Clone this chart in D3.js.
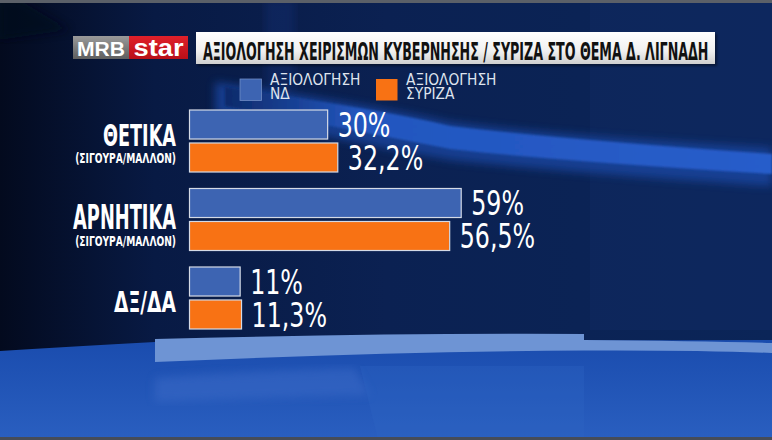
<!DOCTYPE html>
<html lang="el">
<head>
<meta charset="UTF-8">
<title>Αξιολόγηση χειρισμών</title>
<script src="https://cdn.jsdelivr.net/npm/d3@7"></script>
<style>
  html, body { margin: 0; padding: 0; background: #0a1f4e; }
  svg { display: block; }
</style>
</head>
<body>
<svg width="772" height="440"></svg>
<script>
  // data
  var categories = ['ΘΕΤΙΚΑ', 'ΑΡΝΗΤΙΚΑ', 'ΔΞ/ΔΑ'];
  var subLabels = ['(ΣΙΓΟΥΡΑ/ΜΑΛΛΟΝ)', '(ΣΙΓΟΥΡΑ/ΜΑΛΛΟΝ)', ''];
  var seriesNames = ['ΑΞΙΟΛΟΓΗΣΗ ΝΔ', 'ΑΞΙΟΛΟΓΗΣΗ ΣΥΡΙΖΑ'];
  var ndValues = [30, 59, 11];
  var syrizaValues = [32.2, 56.5, 11.3];
  var title = 'ΑΞΙΟΛΟΓΗΣΗ  ΧΕΙΡΙΣΜΩΝ ΚΥΒΕΡΝΗΣΗΣ / ΣΥΡΙΖΑ ΣΤΟ ΘΕΜΑ Δ. ΛΙΓΝΑΔΗ';

  var narrow = "'DejaVu Sans Condensed', 'DejaVu Sans', sans-serif";
  var colors = ['#3d64b2', '#f87214'];
  // per-category label look (the main words are not all the same size on the original)
  var labelStyle = [
    { size: 30, dy: 36, w: 73, sub: 53 },
    { size: 34, dy: 40.5, w: 103, sub: 57.5 },
    { size: 29, dy: 45, w: 62 }
  ];

  var svg = d3.select('svg');
  var W = +svg.attr('width'), H = +svg.attr('height');
  var defs = svg.append('defs');

  function linGrad(id, x1, y1, x2, y2, stops) {
    var g = defs.append('linearGradient').attr('id', id)
      .attr('x1', x1).attr('y1', y1).attr('x2', x2).attr('y2', y2);
    stops.forEach(function(s) {
      g.append('stop').attr('offset', s[0]).attr('stop-color', s[1]);
    });
  }
  // squeeze a text horizontally so it spans w pixels, anchored at (x, y)
  function fit(sel, x, y, w) {
    sel.each(function() {
      var len = this.getComputedTextLength();
      d3.select(this).attr('transform', 'translate(' + x + ',' + y + ') scale(' + (w / len) + ',1)');
    });
  }

  linGrad('bg', 0, 0, 1, 0, [[0, '#030a1e'], [0.2, '#081a44'], [0.5, '#0b2152'], [1, '#0b2558']]);
  linGrad('sweep', 0, 0, 1, 0, [[0, '#0d2a6a'], [0.25, '#2457bf'], [1, '#265dca']]);
  linGrad('floor', 0, 0, 0, 1, [[0, '#1a4cae'], [1, '#2a5fc0']]);
  linGrad('titleBox', 0, 0, 0, 1, [[0, '#ffffff'], [0.6, '#f0f0f0'], [1, '#cfcfcf']]);
  linGrad('mrb', 0, 0, 0, 1, [[0, '#9a9a9a'], [1, '#5e5e5e']]);
  linGrad('star', 0, 0, 0, 1, [[0, '#e0202a'], [1, '#b80f18']]);
  defs.append('filter').attr('id', 'blur').append('feGaussianBlur').attr('stdDeviation', 4);
  defs.append('filter').attr('id', 'soft').append('feGaussianBlur').attr('stdDeviation', 1.2);

  // backdrop
  svg.append('rect').attr('width', W).attr('height', H).attr('fill', 'url(#bg)');
  svg.append('path')
    .attr('d', 'M0,0 L0,40 L70,30 L20,0 Z')
    .attr('fill', '#02081a').attr('opacity', 0.7).attr('filter', 'url(#blur)');
  svg.append('rect').attr('x', 265).attr('y', 0).attr('width', 30).attr('height', 90)
    .attr('fill', '#12307a').attr('opacity', 0.35).attr('filter', 'url(#blur)');
  svg.append('rect').attr('x', 590).attr('y', 0).attr('width', 182).attr('height', 330)
    .attr('fill', '#123070').attr('opacity', 0.25);
  // light sweep across the top half
  svg.append('path')
    .attr('d', 'M215,82 Q380,106 450,122 Q560,136 772,148 L772,186 Q560,172 450,160 Q380,148 215,114 Z')
    .attr('fill', '#1c4db0').attr('opacity', 0.65).attr('filter', 'url(#blur)');
  svg.append('path')
    .attr('d', 'M225,87 Q385,110 450,126 Q560,139 772,154 L772,174 Q560,161 450,149 Q390,137 225,106 Z')
    .attr('fill', 'url(#sweep)').attr('filter', 'url(#soft)');

  // floor
  svg.append('path')
    .attr('d', 'M0,351 Q80,346 155,342 L772,340 L772,440 L0,440 Z')
    .attr('fill', 'url(#floor)');
  svg.append('path')
    .attr('d', 'M155,339 Q380,333 584,334 L584,340 Q700,341 772,343 L772,353 Q700,350 584,350.5 Q380,352 155,362 Z')
    .attr('fill', '#6e94d4');
  svg.append('path')
    .attr('d', 'M155,378 Q250,371 355,368 L370,395 Q260,398 155,402 Z')
    .attr('fill', '#3c6cc8').attr('opacity', 0.5).attr('filter', 'url(#blur)');
  svg.append('path')
    .attr('d', 'M360,366 L584,366 L584,440 L378,440 Z')
    .attr('fill', '#2f63c4').attr('opacity', 0.35);

  // frame lines
  svg.append('rect').attr('width', W).attr('height', 3).attr('fill', '#5b6068');
  svg.append('rect').attr('y', H - 3).attr('width', W).attr('height', 3).attr('fill', '#464c58');

  // header
  var head = svg.append('g');
  head.append('rect').attr('x', 73).attr('y', 36).attr('width', 56).attr('height', 23).attr('fill', 'url(#mrb)');
  head.append('rect').attr('x', 129).attr('y', 36).attr('width', 59).attr('height', 23).attr('fill', 'url(#star)');
  head.append('text').attr('x', 101).attr('y', 55.5).attr('text-anchor', 'middle')
    .attr('font-family', "'Liberation Sans', Arial, sans-serif").attr('font-weight', 700)
    .attr('font-size', 21).attr('fill', '#fff').attr('textLength', 48).attr('lengthAdjust', 'spacingAndGlyphs')
    .text('MRB');
  head.append('text').attr('x', 158.5).attr('y', 55.5).attr('text-anchor', 'middle')
    .attr('font-family', "'Liberation Sans', Arial, sans-serif").attr('font-weight', 700)
    .attr('font-size', 23).attr('fill', '#fff').attr('textLength', 50).attr('lengthAdjust', 'spacingAndGlyphs')
    .text('star');
  head.append('rect').attr('x', 198).attr('y', 34).attr('width', 519).attr('height', 32)
    .attr('fill', '#000').attr('opacity', 0.4).attr('filter', 'url(#soft)');
  head.append('rect').attr('x', 196).attr('y', 32).attr('width', 519).attr('height', 32).attr('fill', 'url(#titleBox)');
  head.append('text')
    .attr('font-family', narrow).attr('font-weight', 700).attr('font-size', 24).attr('fill', '#111')
    .text(title)
    .call(fit, 203, 59.5, 506);

  // legend
  var legendX = [240, 376];
  var legend = svg.append('g').selectAll('g').data(seriesNames).join('g')
    .attr('transform', function(d, i) { return 'translate(' + legendX[i] + ',79)'; });
  legend.append('rect').attr('width', 21.5).attr('height', 21.5)
    .attr('fill', function(d, i) { return colors[i]; })
    .attr('stroke', function(d, i) { return i ? 'none' : '#6f8cc4'; }).attr('stroke-width', 0.8);
  legend.append('text')
    .attr('font-family', narrow).attr('font-size', 15.5).attr('fill', '#dfe4ee')
    .attr('transform', 'translate(30,5.5) scale(0.99,1)')
    .selectAll('tspan').data(function(d) { return d.split(' '); }).join('tspan')
    .attr('x', 0).attr('y', function(d, k) { return k * 14.5; })
    .text(function(d) { return d; });

  // scales
  var x0 = 189.5;
  var x = d3.scaleLinear().domain([0, 100]).range([0, 460.5]);
  var y = d3.scaleBand().domain(categories).range([110, 329]).paddingInner(0.21).paddingOuter(0).align(0);
  var ySub = d3.scaleBand().domain([0, 1]).range([0, y.bandwidth()]).paddingInner(0.12).paddingOuter(0);

  var rows = categories.map(function(c, i) {
    return { cat: c, sub: subLabels[i], vals: [ndValues[i], syrizaValues[i]], i: i };
  });
  var fmt = function(v) { return String(v).replace('.', ',') + '%'; };

  var groups = svg.append('g').selectAll('g').data(rows).join('g')
    .attr('transform', function(d) { return 'translate(0,' + y(d.cat) + ')'; });

  groups.selectAll('rect').data(function(d) { return d.vals; }).join('rect')
    .attr('x', x0)
    .attr('y', function(d, i) { return ySub(i); })
    .attr('width', function(d) { return x(d); })
    .attr('height', ySub.bandwidth())
    .attr('fill', function(d, i) { return colors[i]; })
    .attr('stroke', '#d4dae6').attr('stroke-width', 1.2);

  groups.selectAll('text.val').data(function(d) { return d.vals; }).join('text')
    .attr('class', 'val')
    .attr('transform', function(d, i) {
      return 'translate(' + (x0 + x(d) + 10) + ',' + (ySub(i) + ySub.bandwidth() - 2.5) + ') scale(0.8,1)';
    })
    .attr('font-family', narrow).attr('font-size', 33).attr('fill', '#fff')
    .text(fmt);

  groups.append('text')
    .attr('text-anchor', 'end')
    .attr('font-family', narrow).attr('font-weight', 700)
    .attr('font-size', function(d) { return labelStyle[d.i].size; })
    .attr('fill', '#fff')
    .text(function(d) { return d.cat; })
    .each(function(d) {
      d3.select(this).call(fit, 176, labelStyle[d.i].dy, labelStyle[d.i].w);
    });

  groups.filter(function(d) { return d.sub; }).append('text')
    .attr('text-anchor', 'end')
    .attr('font-family', narrow).attr('font-weight', 700).attr('font-size', 14.5)
    .attr('fill', '#fff')
    .text(function(d) { return d.sub; })
    .each(function(d) {
      d3.select(this).call(fit, 176, labelStyle[d.i].sub, 101);
    });
</script>
</body>
</html>
